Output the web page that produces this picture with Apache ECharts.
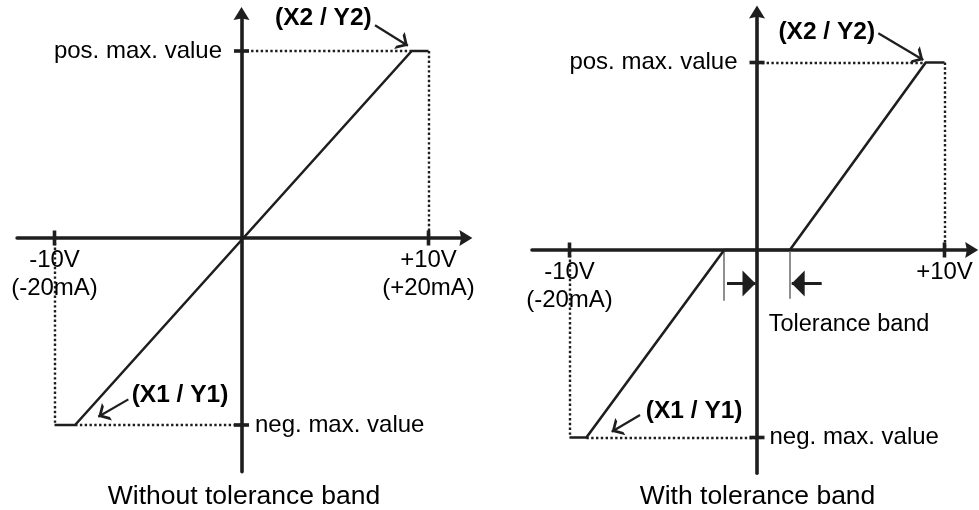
<!DOCTYPE html>
<html><head><meta charset="utf-8">
<script src="https://cdn.jsdelivr.net/npm/echarts@6/dist/echarts.min.js"></script>
<style>html,body{margin:0;padding:0;background:#fff}#c{width:979px;height:510px}</style>
</head><body><div id="c"></div><script>
// ---------------- data ----------------
// Left diagram: without tolerance band
const leftCurve = [[-10, -10], [-8.9, -10], [9.1, 10], [10, 10]];
const leftGuides = [[[0, 10], [9.1, 10]], [[10, 10], [10, 0]], [[-10, 0], [-10, -10]], [[-8.9, -10], [0, -10]]];
const leftXTicks = [-10, 10];
const leftXTickLabels = ['-10V\n(-20mA)', '+10V\n(+20mA)'];
const leftYTicks = [10, -10];
const leftYTickLabels = ['pos. max. value', 'neg. max. value'];
const leftNotePos = [[4.38, 11.76], [-3.29, -8.40]];
const leftNoteText = ['(X2 / Y2)', '(X1 / Y1)'];
const leftNoteArrows = [[[7.14, 11.38], [8.90, 10.28]], [[-6.05, -8.63], [-7.66, -9.56]]];

// Right diagram: with tolerance band
const rightCurve = [[-10, -10], [-9.1, -10], [-1.75, 0], [1.75, 0], [9.0, 10], [10, 10]];
const rightGuides = [[[0, 10], [9.0, 10]], [[10, 10], [10, 0]], [[-10, 0], [-10, -10]], [[-9.1, -10], [0, -10]]];
const rightXTicks = [-10, 10];
const rightXTickLabels = ['-10V\n(-20mA)', '+10V'];
const rightYTicks = [10, -10];
const rightYTickLabels = ['pos. max. value', 'neg. max. value'];
const rightNotePos = [[3.72, 11.64], [-3.35, -8.62]];
const rightNoteText = ['(X2 / Y2)', '(X1 / Y1)'];
const rightNoteArrows = [[[6.47, 11.56], [8.87, 10.13]], [[-6.24, -8.8], [-7.75, -9.69]]];
const toleranceMarks = [[[-1.75, 0], [-1.75, -2.7]], [[1.75, 0], [1.75, -2.6]]];
const toleranceArrows = [[[-1.6, -1.78], [-0.08, -1.78]], [[3.45, -1.78], [1.85, -1.78]]];
const toleranceLabelPos = [4.91, -4.0];
const toleranceLabel = 'Tolerance band';

const titles = ['Without tolerance band', 'With tolerance band'];

// ---------------- layout / style ----------------
const INK = '#1e1e1e';
const TXT = '#000000';
const FONT = '"Liberation Sans", Arial, sans-serif';
const AXIS_ARROW = 'path://M8,0 L16,13 L8,11.3 L0,13 Z';
const OPEN_HEAD = 'path://M6,-10 M0,10 L6,0 L12,10 L9.67,10 L6,3.89 L2.33,10 Z';
const SOLID_HEAD = 'path://M7.5,-13 M0,13 L7.5,0 L15,13 Z';

const L = {sx: 18.7, ox: 241.5, oy: 238, xMin: -12, xMax: 12, yMin: -12.5, yMax: 12};
const R = {sx: 18.75, ox: 757, oy: 250, xMin: -12, xMax: 11.45, yMin: -11.9, yMax: 12.7};
function gridOf(g) {
  return {
    left: g.ox + g.xMin * g.sx, top: g.oy - g.yMax * g.sx,
    width: (g.xMax - g.xMin) * g.sx, height: (g.yMax - g.yMin) * g.sx,
    containLabel: false, outerBoundsMode: 'none'
  };
}
function axisLine(arrowSize) {
  return {show: true, onZero: true, symbol: ['none', AXIS_ARROW], symbolSize: arrowSize,
    lineStyle: {color: INK, width: 3.6}};
}
function xAxisOf(g, i) {
  return {type: 'value', gridIndex: i, min: g.xMin, max: g.xMax, axisLine: axisLine([16, 13]),
    axisTick: {show: false}, axisLabel: {show: false}, splitLine: {show: false}};
}
function yAxisOf(g, i) {
  return {type: 'value', gridIndex: i, min: g.yMin, max: g.yMax, axisLine: axisLine([16, 13]),
    axisTick: {show: false}, axisLabel: {show: false}, splitLine: {show: false}};
}
const centerLabel = {show: true, position: ['50%', '50%'], align: 'center', verticalAlign: 'middle',
  color: TXT, opacity: 1, textBorderWidth: 0, fontFamily: FONT};

function buildSeries(idx, curve, guides, xTicks, xLabels, yTicks, yLabels, notePos, noteText, noteArrows, negDist) {
  const base = {xAxisIndex: idx, yAxisIndex: idx, silent: true, animation: false};
  const out = [];
  out.push(Object.assign({type: 'line', data: curve, symbol: 'none',
    lineStyle: {color: INK, width: 2.6}, z: 4}, base));
  out.push(Object.assign({type: 'lines', coordinateSystem: 'cartesian2d',
    data: guides.map(c => ({coords: c})), symbol: 'none',
    lineStyle: {color: INK, width: 2.4, type: 'dotted', opacity: 1, curveness: 0}, z: 3}, base));
  const tickData = [];
  xTicks.forEach((v, i) => tickData.push({value: [v, 0], symbol: 'rect', symbolSize: [3.6, 15],
    label: {show: true, position: 'bottom', distance: 1, formatter: xLabels[i], lineHeight: 28, align: 'center'}}));
  yTicks.forEach((v, i) => tickData.push({value: [0, v], symbol: 'rect', symbolSize: [15, 3.6],
    label: {show: true, position: v > 0 ? 'left' : 'right', distance: v > 0 ? 12 : negDist, formatter: yLabels[i]}}));
  out.push(Object.assign({type: 'scatter', data: tickData, itemStyle: {color: INK, opacity: 1},
    label: {color: TXT, fontSize: 24, fontFamily: FONT, textBorderWidth: 0}, clip: false, z: 5}, base));
  out.push(Object.assign({type: 'scatter', clip: false, z: 6,
    data: notePos.map((p, i) => ({value: p, label: {formatter: noteText[i]}})),
    symbol: 'circle', symbolSize: 1, itemStyle: {color: 'rgba(0,0,0,0)'},
    label: Object.assign({}, centerLabel, {fontSize: 24.5, fontWeight: 'bold'})}, base));
  out.push(Object.assign({type: 'lines', coordinateSystem: 'cartesian2d',
    data: noteArrows.map(c => ({coords: c})), symbol: ['none', OPEN_HEAD], symbolSize: [12, 20],
    lineStyle: {color: INK, width: 2.2, opacity: 1, curveness: 0}, z: 6}, base));
  return out;
}

const series = [].concat(
  buildSeries(0, leftCurve, leftGuides, leftXTicks, leftXTickLabels, leftYTicks, leftYTickLabels,
    leftNotePos, leftNoteText, leftNoteArrows, 6),
  buildSeries(1, rightCurve, rightGuides, rightXTicks, rightXTickLabels, rightYTicks, rightYTickLabels,
    rightNotePos, rightNoteText, rightNoteArrows, 5),
  [
    {type: 'lines', coordinateSystem: 'cartesian2d', xAxisIndex: 1, yAxisIndex: 1, silent: true, animation: false,
      data: toleranceMarks.map(c => ({coords: c})), symbol: 'none',
      lineStyle: {color: '#6a6a6a', width: 1.5, opacity: 1, curveness: 0}, z: 3},
    {type: 'lines', coordinateSystem: 'cartesian2d', xAxisIndex: 1, yAxisIndex: 1, silent: true, animation: false,
      data: toleranceArrows.map(c => ({coords: c})), symbol: ['none', SOLID_HEAD], symbolSize: [15, 26],
      lineStyle: {color: INK, width: 3, opacity: 1, curveness: 0}, z: 6},
    {type: 'scatter', xAxisIndex: 1, yAxisIndex: 1, silent: true, animation: false, clip: false, z: 6,
      data: [{value: toleranceLabelPos, label: {formatter: toleranceLabel}}],
      symbolSize: 1, itemStyle: {color: 'rgba(0,0,0,0)'},
      label: Object.assign({}, centerLabel, {fontSize: 23.5})}
  ]
);

const chart = echarts.init(document.getElementById('c'), null, {renderer: 'canvas'});
chart.setOption({
  animation: false,
  backgroundColor: '#ffffff',
  grid: [gridOf(L), gridOf(R)],
  xAxis: [xAxisOf(L, 0), xAxisOf(R, 1)],
  yAxis: [yAxisOf(L, 0), yAxisOf(R, 1)],
  series: series,
  graphic: [
    {type: 'text', x: 244, y: 497, silent: true,
      style: {text: titles[0], fontSize: 26.5, fontFamily: FONT, fill: TXT,
        align: 'center', verticalAlign: 'middle', textAlign: 'center', textVerticalAlign: 'middle'}},
    {type: 'text', x: 757.5, y: 497, silent: true,
      style: {text: titles[1], fontSize: 26.5, fontFamily: FONT, fill: TXT,
        align: 'center', verticalAlign: 'middle', textAlign: 'center', textVerticalAlign: 'middle'}}
  ]
});
</script></body></html>
